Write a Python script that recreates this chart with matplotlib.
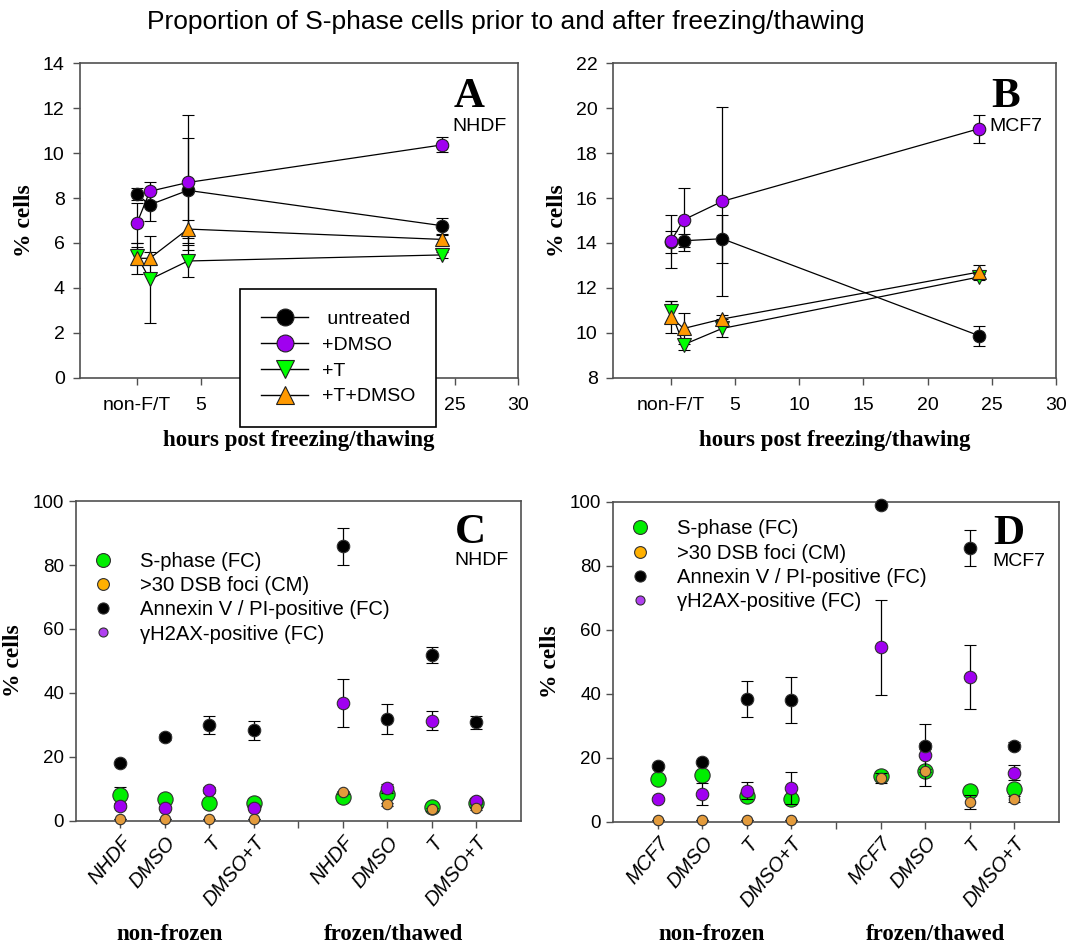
import matplotlib
matplotlib.use("Agg")
import matplotlib.pyplot as plt
from matplotlib.lines import Line2D

plt.rcParams['font.family'] = ['Liberation Sans', 'DejaVu Sans']

# Panel A/B data (hours post freezing/thawing)
hours = [0, 1, 4, 24]
series_names = [' untreated', '+DMSO', '+T', '+T+DMSO']
a_xlabels = ['non-F/T', '5', '', '', '', '25', '30']   # 10-20 sit behind the legend
b_xlabels = ['non-F/T', '5', '10', '15', '20', '25', '30']

a_untreated = [8.16, 7.70, 8.34, 6.77]
a_untreated_err = [0.27, 0.72, 2.34, 0.35]
a_dmso = [6.90, 8.30, 8.69, 10.36]
a_dmso_err = [0.9, 0.42, 3.0, 0.33]
a_t = [5.42, 4.38, 5.20, 5.47]
a_t_err = [0.4, 1.95, 0.7, 0.12]
a_tdmso = [5.32, 5.32, 6.62, 6.16]
a_tdmso_err = [0.7, 0.3, 0.4, 0.2]

b_untreated = [14.04, 14.10, 14.19, 9.88]
b_untreated_err = [0.5, 0.3, 1.07, 0.45]
b_dmso = [14.07, 15.03, 15.85, 19.08]
b_dmso_err = [1.17, 1.4, 4.2, 0.63]
b_t = [10.96, 9.48, 10.20, 12.49]
b_t_err = [0.45, 0.25, 0.4, 0.15]
b_tdmso = [10.71, 10.20, 10.62, 12.71]
b_tdmso_err = [0.7, 0.7, 0.2, 0.3]

# Panel C/D data (categories, gap at position 5)
cat_pos = [1, 2, 3, 4, 6, 7, 8, 9]
c_labels = ['NHDF', 'DMSO', 'T', 'DMSO+T', 'NHDF', 'DMSO', 'T', 'DMSO+T']
d_labels = ['MCF7', 'DMSO', 'T', 'DMSO+T', 'MCF7', 'DMSO', 'T', 'DMSO+T']
cd_names = ['S-phase (FC)', '>30 DSB foci (CM)', 'Annexin V / PI-positive (FC)',
            '\u03b3H2AX-positive (FC)']

c_sphase = [8.1, 6.9, 5.5, 5.5, 7.6, 8.3, 4.5, 5.5]
c_sphase_err = [2.4, 1.0, 1.0, 1.6, 1.0, 1.0, 1.0, 1.0]
c_foci = [0.5, 0.5, 0.5, 0.5, 8.9, 5.2, 3.7, 4.0]
c_foci_err = [0, 0, 0, 0, 0.5, 0.5, 0.5, 0.5]
c_annexin = [18.0, 26.2, 30.1, 28.3, 85.8, 31.8, 51.9, 30.8]
c_annexin_err = [0.5, 1.0, 2.8, 2.9, 5.8, 4.7, 2.5, 2.0]
c_h2ax = [4.7, 4.2, 9.7, 4.2, 36.9, 10.2, 31.3, 6.2]
c_h2ax_err = [0.5, 0.5, 1.0, 0.8, 7.6, 1.5, 3.0, 1.0]

d_sphase = [13.3, 14.7, 8.0, 7.1, 14.4, 15.8, 9.6, 10.3]
d_sphase_err = [0.5, 1.0, 1.0, 1.0, 1.5, 1.0, 1.0, 1.0]
d_foci = [0.4, 0.4, 0.4, 0.4, 13.75, 15.9, 6.1, 7.2]
d_foci_err = [0, 0, 0, 0, 1.5, 0.5, 2.2, 1.0]
d_annexin = [17.4, 18.75, 38.3, 38.2, 99.2, 23.75, 85.6, 23.8]
d_annexin_err = [0.5, 0.5, 5.6, 7.2, 0, 1.0, 5.6, 1.0]
d_h2ax = [7.1, 8.6, 9.7, 10.7, 54.5, 20.8, 45.3, 15.3]
d_h2ax_err = [0.5, 3.5, 2.6, 5.0, 14.8, 9.7, 10.1, 2.4]

W, H = 1084, 948
fig = plt.figure(figsize=(W / 100, H / 100), dpi=100)

spine_col = '#505050'
serif = 'Liberation Serif'


def box_axes(rect, tick_size):
    ax = fig.add_axes(rect)
    for s in ax.spines.values():
        s.set_color(spine_col)
        s.set_linewidth(1.2)
    ax.tick_params(direction='out', length=5, width=1.0, color=spine_col,
                   labelsize=tick_size, top=False, right=False)
    return ax


line_styles = [
    dict(marker='o', mfc='black', ms=9),
    dict(marker='o', mfc='#A000F0', ms=9),
    dict(marker='v', mfc='#00FF00', ms=10),
    dict(marker='^', mfc='#FF9900', ms=10),
]


def time_panel(rect, series, errs, ylim, yticks, xlabels, letter, cell):
    ax = box_axes(rect, 14)
    ax.tick_params(axis='x', pad=9)
    ax.tick_params(axis='y', pad=6)
    for vals, err, st in zip(series, errs, line_styles):
        ax.errorbar(hours, vals, yerr=err, color='black', lw=0.9, elinewidth=0.9,
                    capsize=4.5, capthick=0.9, mec='#202020', mew=0.8,
                    clip_on=False, **st)
    ax.set_xlim(-4.5, 30)
    ax.set_ylim(*ylim)
    ax.set_yticks(yticks)
    ax.set_xticks([0, 5, 10, 15, 20, 25, 30])
    ax.set_xticklabels(xlabels)
    ax.set_xlabel('hours post freezing/thawing', family=serif, weight='bold',
                  fontsize=16.5, labelpad=11)
    ax.set_ylabel('% cells', family=serif, weight='bold', fontsize=17, labelpad=6)
    ax.text(0.853, 0.86, letter, transform=ax.transAxes, family=serif,
            weight='bold', fontsize=31)
    ax.text(0.85, 0.784, cell, transform=ax.transAxes, fontsize=14)
    return ax


axA = time_panel([0.0738, 0.6013, 0.4041, 0.3322],
                 [a_untreated, a_dmso, a_t, a_tdmso],
                 [a_untreated_err, a_dmso_err, a_t_err, a_tdmso_err],
                 (0, 14), range(0, 15, 2), a_xlabels, 'A', 'NHDF')
axB = time_panel([0.5655, 0.6013, 0.4087, 0.3322],
                 [b_untreated, b_dmso, b_t, b_tdmso],
                 [b_untreated_err, b_dmso_err, b_t_err, b_tdmso_err],
                 (8, 22), range(8, 23, 2), b_xlabels, 'B', 'MCF7')

handles = [Line2D([], [], color='black', lw=1.0, mec='#202020', mew=0.8, **st)
           for st in line_styles]
leg = axA.legend(handles, series_names, loc='upper left',
                 bbox_to_anchor=(240 / W, 1 - 289 / H), bbox_transform=fig.transFigure,
                 fontsize=14, frameon=True, fancybox=False, edgecolor='black',
                 framealpha=1, handlelength=2.4, handletextpad=0.7,
                 labelspacing=0.42, borderpad=1.1, borderaxespad=0,
                 markerscale=1.35)
leg.get_frame().set_linewidth(1.2)
leg.set_zorder(10)

cd_styles = [
    dict(color='#00EE00', ms=11),
    dict(color='#E39B3C', ms=7.5),
    dict(color='black', ms=9),
    dict(color='#A000F0', ms=9),
]
legend_cols = ['#00EE00', '#FFB000', 'black', '#B040F0']
legend_ms = [10, 8.5, 8, 6.5]


def cat_panel(rect, series, errs, labels, letter, cell, leg_top):
    ax = box_axes(rect, 13.5)
    order = [0, 3, 2, 1]
    for i in order:
        st = cd_styles[i]
        ax.errorbar(cat_pos, series[i], yerr=errs[i], fmt='o', mfc=st['color'],
                    mec='#303030', mew=0.8, ms=st['ms'], ecolor='black',
                    elinewidth=0.9, capsize=4.5, capthick=0.9, clip_on=False,
                    zorder=3 + order.index(i))
    ax.set_xlim(0, 10)
    ax.set_ylim(0, 100)
    ax.set_yticks(range(0, 101, 20))
    ax.set_xticks(cat_pos + [5])
    ax.set_xticklabels(labels + [''], rotation=50, ha='right',
                       rotation_mode='anchor', style='italic', fontsize=14.5)
    ax.set_ylabel('% cells', family=serif, weight='bold', fontsize=17, labelpad=6)
    ax.text(0.852, 0.869, letter, transform=ax.transAxes, family=serif,
            weight='bold', fontsize=31)
    ax.text(0.85, 0.80, cell, transform=ax.transAxes, fontsize=14)
    hs = [Line2D([], [], ls='none', marker='o', mfc=c, mec='#303030', mew=0.8, ms=m)
          for c, m in zip(legend_cols, legend_ms)]
    ax.legend(hs, cd_names, loc='upper left', bbox_to_anchor=(0.005, leg_top),
              frameon=False, fontsize=14.6, handlelength=1.0, handletextpad=1.35,
              labelspacing=0.26, borderaxespad=0.3)
    return ax


axC = cat_panel([0.0701, 0.1340, 0.4105, 0.3375],
                [c_sphase, c_foci, c_annexin, c_h2ax],
                [c_sphase_err, c_foci_err, c_annexin_err, c_h2ax_err],
                c_labels, 'C', 'NHDF', 0.886)
axD = cat_panel([0.5655, 0.1332, 0.4114, 0.3373],
                [d_sphase, d_foci, d_annexin, d_h2ax],
                [d_sphase_err, d_foci_err, d_annexin_err, d_h2ax_err],
                d_labels, 'D', 'MCF7', 0.99)

for x, txt in [(170, 'non-frozen'), (394, 'frozen/thawed'),
               (712, 'non-frozen'), (935, 'frozen/thawed')]:
    fig.text(x / W, 1 - 934 / H, txt, family=serif, weight='bold', fontsize=16.5,
             ha='center', va='center')

fig.text(506 / W, 1 - 22 / H, 'Proportion of S-phase cells prior to and after freezing/thawing',
         fontsize=19, ha='center', va='center')

fig.savefig('out.png', dpi=100)
